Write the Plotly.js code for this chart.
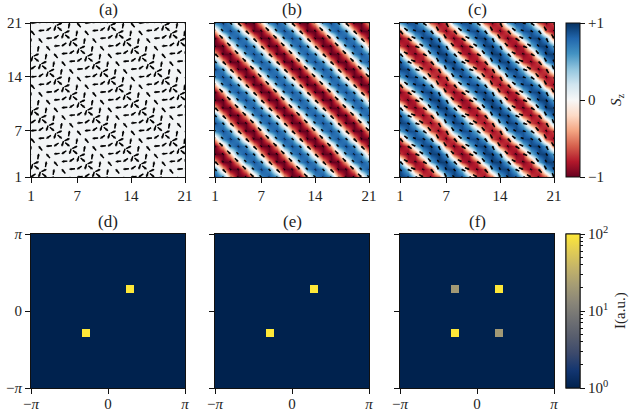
<!DOCTYPE html>
<html>
<head>
<meta charset="utf-8">
<script src="https://cdn.plot.ly/plotly-3.0.1.min.js"></script>
<style>html,body{margin:0;padding:0;background:#fff}</style>
</head>
<body>
<div id="chart" style="width:629px;height:411px"></div>
<script>
// one period of each texture: index is (i+j)%7 on the 21x21 lattice
var angle_a = [310, 5, 35, 72, 140, 205, 260];
var len_a   = [0.72, 0.72, 0.72, 0.72, 0.72, 0.72, 0.72];
var sz_a    = [0.02, 0.02, 0.02, 0.02, 0.02, 0.02, 0.02];

var angle_b = [135, 135, 135, 315, 315, 315, 135];
var len_b   = [0.6, 0.3, 0.06, 0.3, 0.6, 0.12, 0.12];
var sz_b    = [-0.35, 0.65, 0.88, 0.65, -0.35, -1, -1];

// panel (c) also changes along the stripes: rows are (i+j)%7, columns i%7
var sz_c = [
  [-0.66, -0.62, -0.68, -0.74, -0.7, -0.64, -0.62],
  [0.46, 0.52, 0.44, 0.38, 0.42, 0.5, 0.54],
  [0.92, 0.94, 0.9, 0.86, 0.88, 0.92, 0.95],
  [0.94, 0.92, 0.88, 0.86, 0.9, 0.94, 0.95],
  [0.52, 0.44, 0.38, 0.36, 0.42, 0.5, 0.54],
  [-0.62, -0.68, -0.74, -0.7, -0.66, -0.62, -0.64],
  [-0.9, -0.94, -0.96, -0.94, -0.9, -0.88, -0.88]
];
var angle_c = [
  [298, 310, 328, 338, 330, 312, 300],
  [115, 125, 142, 155, 148, 130, 118],
  [120, 130, 150, 160, 150, 135, 122],
  [300, 312, 330, 340, 328, 315, 302],
  [300, 315, 335, 342, 325, 308, 296],
  [122, 135, 152, 160, 148, 130, 118],
  [120, 130, 150, 158, 150, 135, 120]
];
var len_c = [
  [0.6, 0.6, 0.6, 0.55, 0.55, 0.6, 0.6],
  [0.55, 0.55, 0.55, 0.55, 0.55, 0.55, 0.55],
  [0.28, 0.28, 0.32, 0.34, 0.32, 0.28, 0.28],
  [0.28, 0.32, 0.34, 0.34, 0.32, 0.28, 0.28],
  [0.55, 0.55, 0.55, 0.55, 0.55, 0.55, 0.55],
  [0.6, 0.55, 0.55, 0.6, 0.6, 0.6, 0.6],
  [0.12, 0.12, 0.1, 0.12, 0.12, 0.14, 0.14]
];

var sites = [];
for (var s = 1; s <= 21; s++) { sites.push(s); }

var peaks_d = { ix: [3, -3], iy: [3, -3], val: [100, 100] };
var peaks_e = { ix: [3, -3], iy: [3, -3], val: [100, 100] };
var peaks_f = { ix: [3, -3, -3, 3], iy: [3, -3, 3, -3], val: [100, 100, 20, 20] };

var site_ticks = [1, 7, 14, 21];
var site_labels = ['1', '7', '14', '21'];
var q_ticks = [-Math.PI, 0, Math.PI];
var q_labels = ['\u2212<i>\u03c0</i>', '0', '<i>\u03c0</i>'];
var sz_ticks = [-1, 0, 1];
var sz_labels = ['\u22121', '0', '+1'];
var i_ticks = [0, 1, 2];
var i_labels = ['10<sup>0</sup>', '10<sup>1</sup>', '10<sup>2</sup>'];
var i_minor = [2, 3, 4, 5, 6, 7, 8, 9, 20, 30, 40, 50, 60, 70, 80, 90];
var panel_names = ['(a)', '(b)', '(c)', '(d)', '(e)', '(f)'];

var font_name = '"Liberation Serif", serif';
var rdbu = [[0, '#67001f'], [0.1, '#b2182b'], [0.2, '#d6604d'], [0.3, '#f4a582'], [0.4, '#fddbc7'], [0.5, '#f7f7f7'],
  [0.6, '#d1e5f0'], [0.7, '#92c5de'], [0.8, '#4393c3'], [0.9, '#2166ac'], [1, '#053061']];
var cividis = [[0, '#00224e'], [0.111, '#123570'], [0.222, '#3b496c'], [0.333, '#575d6d'], [0.444, '#707173'],
  [0.556, '#8a8678'], [0.667, '#a59c74'], [0.778, '#c3b369'], [0.889, '#e1cc55'], [1, '#fee838']];

function pickTable(table, i, j) {
  var row = table[(i + j) % 7];
  return Array.isArray(row) ? row[i % 7] : row;
}

function buildField(table) {
  var z = [];
  for (var j = 1; j <= 21; j++) {
    var row = [];
    for (var i = 1; i <= 21; i++) { row.push(pickTable(table, i, j)); }
    z.push(row);
  }
  return z;
}

// shaft as line segments, head as an arrow marker sitting on the tip
function buildArrows(angles, lens, xa, ya) {
  var xs = [], ys = [], tx = [], ty = [], rot = [], heads = [];
  for (var j = 1; j <= 21; j++) {
    for (var i = 1; i <= 21; i++) {
      var a = pickTable(angles, i, j) * Math.PI / 180;
      var l = pickTable(lens, i, j);
      var x1 = i + l * Math.cos(a);
      var y1 = j + l * Math.sin(a);
      xs.push(i, x1, null);
      ys.push(j, y1, null);
      tx.push(x1);
      ty.push(y1);
      rot.push(90 - pickTable(angles, i, j));
      heads.push(2 + 3.6 * l);
    }
  }
  return [
    { type: 'scatter', mode: 'lines', x: xs, y: ys, xaxis: xa, yaxis: ya, showlegend: false, hoverinfo: 'skip',
      line: { color: '#000', width: 1.4 } },
    { type: 'scatter', mode: 'markers', x: tx, y: ty, xaxis: xa, yaxis: ya, showlegend: false, hoverinfo: 'skip',
      marker: { symbol: 'arrow', size: heads, angle: rot, color: '#000', line: { width: 0 } } }
  ];
}

function buildPeaks(peaks) {
  var qx = [], z = [];
  for (var k = -10; k <= 10; k++) { qx.push(k * 2 * Math.PI / 21); }
  for (var b = -10; b <= 10; b++) {
    var row = [];
    for (var a = -10; a <= 10; a++) {
      var v = 1;
      for (var p = 0; p < peaks.val.length; p++) {
        if (peaks.ix[p] == a && peaks.iy[p] == b) { v = peaks.val[p]; }
      }
      row.push(Math.log10(v));
    }
    z.push(row);
  }
  return { qx: qx, z: z };
}

var bar_common = { thickness: 14, thicknessmode: 'pixels', lenmode: 'fraction', len: 154 / 411, x: 566 / 629, xanchor: 'left',
  xpad: 0, ypad: 0, yanchor: 'middle', outlinewidth: 1, outlinecolor: '#111', tickmode: 'array', ticks: 'outside',
  tickcolor: '#111', tickwidth: 1, tickfont: { family: font_name, size: 15, color: '#222' } };

function mergeBar(extra) {
  return Object.assign({}, bar_common, extra);
}

var data = [];
var top_tables = [[sz_a, angle_a, len_a], [sz_b, angle_b, len_b], [sz_c, angle_c, len_c]];
for (var t = 0; t < 3; t++) {
  var heat = { type: 'heatmap', x: sites, y: sites, z: buildField(top_tables[t][0]), zmin: -1, zmax: 1, zsmooth: 'best',
    colorscale: rdbu, showscale: false, hoverinfo: 'skip', xaxis: 'x' + (t + 1), yaxis: 'y' + (t + 1) };
  if (t == 2) {
    heat.showscale = true;
    heat.colorbar = mergeBar({ y: 1 - 100 / 411, tickvals: sz_ticks, ticktext: sz_labels, ticklen: 5 });
  }
  data.push(heat);
  data = data.concat(buildArrows(top_tables[t][1], top_tables[t][2], 'x' + (t + 1), 'y' + (t + 1)));
}

var minor_vals = [];
for (var m = 0; m < i_minor.length; m++) { minor_vals.push(Math.log10(i_minor[m])); }

var bottom_peaks = [peaks_d, peaks_e, peaks_f];
for (var t2 = 0; t2 < 3; t2++) {
  var grid = buildPeaks(bottom_peaks[t2]);
  var heat2 = { type: 'heatmap', x: grid.qx, y: grid.qx, z: grid.z, zmin: 0, zmax: 2, colorscale: cividis, showscale: false,
    hoverinfo: 'skip', xaxis: 'x' + (t2 + 4), yaxis: 'y' + (t2 + 4) };
  if (t2 == 1) {
    // second bar under the labelled one, only for the short log ticks
    heat2.showscale = true;
    heat2.colorbar = mergeBar({ y: 1 - 311 / 411, tickvals: minor_vals, ticklen: 3, showticklabels: false });
  }
  if (t2 == 2) {
    heat2.showscale = true;
    heat2.colorbar = mergeBar({ y: 1 - 311 / 411, tickvals: i_ticks, ticktext: i_labels, ticklen: 5 });
  }
  data.push(heat2);
}

var left_px = [31, 215, 400];
var layout = {
  width: 629, height: 411,
  margin: { l: 0, r: 0, t: 0, b: 0 },
  paper_bgcolor: '#fff', plot_bgcolor: '#fff',
  showlegend: false,
  font: { family: font_name, size: 15, color: '#222' },
  annotations: []
};

function axisStyle(vals, labels, showLabels) {
  return { tickmode: 'array', tickvals: vals, ticktext: labels, showticklabels: showLabels, ticks: 'outside', ticklen: 5, tickwidth: 1,
    tickcolor: '#111', linecolor: '#111', linewidth: 1, mirror: true, showgrid: false, zeroline: false,
    tickfont: { family: font_name, size: 15, color: '#222' } };
}

for (var n = 0; n < 6; n++) {
  var col = n % 3;
  var is_top = n < 3;
  var y_top = is_top ? 23 : 234;
  var xa = axisStyle(is_top ? site_ticks : q_ticks, is_top ? site_labels : q_labels, true);
  var ya = axisStyle(is_top ? site_ticks : q_ticks, is_top ? site_labels : q_labels, col == 0);
  xa.domain = [left_px[col] / 629, (left_px[col] + 154) / 629];
  ya.domain = [1 - (y_top + 154) / 411, 1 - y_top / 411];
  xa.range = is_top ? [1, 21] : [-Math.PI, Math.PI];
  ya.range = is_top ? [1, 21] : [-Math.PI, Math.PI];
  xa.anchor = 'y' + (n + 1);
  ya.anchor = 'x' + (n + 1);
  if (!is_top) { xa.ticklabelstandoff = -3; }
  layout['xaxis' + (n + 1)] = xa;
  layout['yaxis' + (n + 1)] = ya;
  layout.annotations.push({ text: panel_names[n], xref: 'paper', yref: 'paper', x: (left_px[col] + 77) / 629, y: 1 - (y_top - 13) / 411,
    xanchor: 'center', yanchor: 'middle', showarrow: false, font: { family: font_name, size: 17, color: '#222' } });
}

layout.annotations.push({ text: '<i>S</i><sub>z</sub>', xref: 'paper', yref: 'paper', x: 617 / 629, y: 1 - 100 / 411, textangle: -90,
  xanchor: 'center', yanchor: 'middle', showarrow: false, font: { family: font_name, size: 15, color: '#222' } });
layout.annotations.push({ text: 'I(a.u.)', xref: 'paper', yref: 'paper', x: 620 / 629, y: 1 - 311 / 411, textangle: -90,
  xanchor: 'center', yanchor: 'middle', showarrow: false, font: { family: font_name, size: 15, color: '#222' } });

Plotly.newPlot('chart', data, layout, { staticPlot: true, displayModeBar: false });
</script>
</body>
</html>
